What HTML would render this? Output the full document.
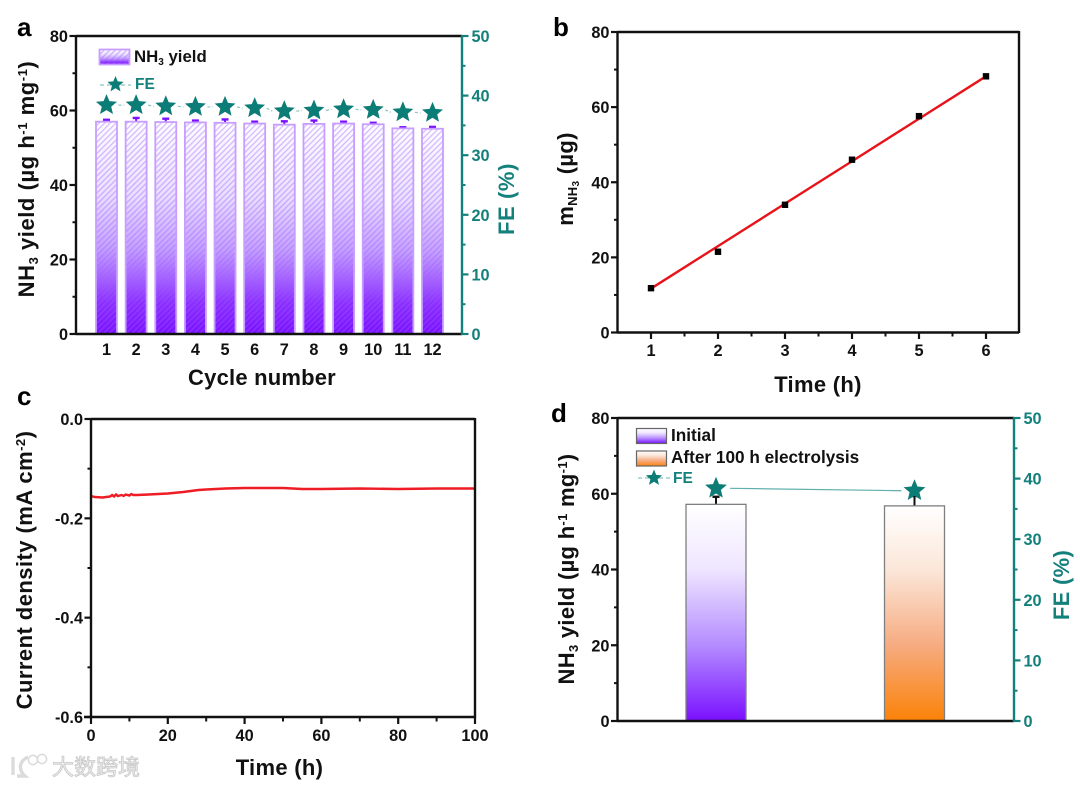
<!DOCTYPE html>
<html lang="en">
<head>
<meta charset="utf-8">
<title>NH3 yield stability charts</title>
<style>
html,body{margin:0;padding:0;background:#fff;width:1080px;height:786px;overflow:hidden}
svg{display:block;filter:blur(.35px)}
text{font-family:"Liberation Sans","Noto Sans CJK SC",sans-serif;font-weight:bold;fill:#111}
.teal{fill:#14807c}
.tt{font-size:22px;letter-spacing:.3px}
.lg{font-size:16.8px}
.lgd{font-size:17.2px}
.pl{font-size:26px;fill:#000}
</style>
</head>
<body>
<svg id="fig" xmlns="http://www.w3.org/2000/svg" width="1080" height="786" viewBox="0 0 1080 786">
<defs>
<linearGradient id="gradA" x1="0" y1="0" x2="0" y2="1"><stop offset="0" stop-color="#ffffff"/><stop offset=".35" stop-color="#eadfff"/><stop offset=".6" stop-color="#c4a0ff"/><stop offset=".85" stop-color="#8c30ff"/><stop offset="1" stop-color="#7a10ff"/></linearGradient>
<linearGradient id="gradP" x1="0" y1="0" x2="0" y2="1"><stop offset="0" stop-color="#ffffff"/><stop offset=".3" stop-color="#efe6ff"/><stop offset=".65" stop-color="#b48cff"/><stop offset="1" stop-color="#7a10ff"/></linearGradient>
<linearGradient id="gradO" x1="0" y1="0" x2="0" y2="1"><stop offset="0" stop-color="#ffffff"/><stop offset=".3" stop-color="#fbe6d8"/><stop offset=".65" stop-color="#f6ab80"/><stop offset="1" stop-color="#fb8208"/></linearGradient>
<pattern id="hatch" width="4" height="4" patternUnits="userSpaceOnUse" patternTransform="rotate(-45)"><line x1="0" y1="1" x2="4" y2="1" stroke="#9a5cff" stroke-opacity=".42" stroke-width="1.3"/></pattern>
</defs>

<rect x="0" y="0" width="1080" height="786" fill="#ffffff"/>

<g id="panelA"></g>
<g id="panelB"></g>
<g id="panelC"></g>
<g id="panelD"></g>

<text class="pl" x="17" y="36">a</text>
<text class="pl" x="553" y="36">b</text>
<text class="pl" x="17" y="405">c</text>
<text class="pl" x="551" y="422">d</text>

<text class="tt" style="letter-spacing:.55px" transform="translate(34,179) rotate(-90)" text-anchor="middle">NH<tspan font-size="13" dy="4">3</tspan><tspan dy="-4"> yield (µg h</tspan><tspan font-size="13" dy="-7">-1</tspan><tspan dy="7"> mg</tspan><tspan font-size="13" dy="-7">-1</tspan><tspan dy="7">)</tspan></text>
<text class="tt teal" style="letter-spacing:.6px" transform="translate(514,199) rotate(-90)" text-anchor="middle">FE (%)</text>
<text class="tt" style="letter-spacing:.2px" x="262" y="385" text-anchor="middle">Cycle number</text>
<text class="lg" x="134" y="62">NH<tspan font-size="10" dy="3">3</tspan><tspan dy="-3"> yield</tspan></text>
<text class="teal" font-size="15.5" x="135" y="89">FE</text>

<text class="tt" transform="translate(573,179) rotate(-90)" text-anchor="middle">m<tspan font-size="13" dy="4">NH</tspan><tspan font-size="10" dy="2">3</tspan><tspan dy="-6"> (µg)</tspan></text>
<text class="tt" x="818" y="392" text-anchor="middle">Time (h)</text>

<text class="tt" style="letter-spacing:.45px" transform="translate(32,570) rotate(-90)" text-anchor="middle">Current density (mA cm<tspan font-size="13" dy="-7">-2</tspan><tspan dy="7">)</tspan></text>
<text class="tt" x="279.5" y="775" text-anchor="middle">Time (h)</text>

<text class="tt" transform="translate(574,569) rotate(-90)" text-anchor="middle">NH<tspan font-size="13" dy="4">3</tspan><tspan dy="-4"> yield (µg h</tspan><tspan font-size="13" dy="-7">-1</tspan><tspan dy="7"> mg</tspan><tspan font-size="13" dy="-7">-1</tspan><tspan dy="7">)</tspan></text>
<text class="tt teal" transform="translate(1069,585) rotate(-90)" text-anchor="middle">FE (%)</text>
<text class="lgd" x="671" y="441">Initial</text>
<text class="lgd" x="671" y="463">After 100 h electrolysis</text>
<text class="teal" font-size="15.5" x="673" y="483">FE</text>

<g opacity=".95">
<path d="M13 757v18M28 757c-9 4-10 13-3 19h-8" fill="none" stroke="#dadada" stroke-width="3.4"/>
<circle cx="33" cy="760" r="4.6" fill="none" stroke="#d8d8d8" stroke-width="1.5"/>
<circle cx="42" cy="759" r="4.6" fill="none" stroke="#d8d8d8" stroke-width="1.5"/>
<text x="52" y="775" font-size="22" style="fill:#eeeeee;stroke:#c6c6c6;stroke-width:.8px;font-weight:normal">大数跨境</text>
</g>
</svg>
<script>
// Panel a data
var cycleLabels = ['1','2','3','4','5','6','7','8','9','10','11','12'];
var yieldValues = [57.0,57.0,56.9,56.8,56.7,56.5,56.2,56.4,56.5,56.3,55.2,55.1];
var yieldErrors = [0.5,1.0,0.9,0.5,0.9,0.5,0.9,0.9,0.5,0.4,0.3,0.5];
var feValues = [38.4,38.4,38.2,38.1,38.1,37.9,37.4,37.5,37.7,37.6,37.2,37.1];
var aLeftTicks = [0,20,40,60,80];
var aRightTicks = [0,10,20,30,40,50];
// Panel b data
var hours = [1,2,3,4,5,6];
var massValues = [11.8,21.5,34,46,57.6,68.2];
var massFit = [11.7,23,34.3,45.6,56.9,68.2];
var bLeftTicks = [0,20,40,60,80];
// Panel c data
var currentTimes = [0,1,3,5,5.5,6,6.5,7,8,8.5,9,10,10.5,11,12,15,20,24,27,28,30,35,40,50,55,60,70,80,90,100];
var currentValues = [-0.155,-0.157,-0.158,-0.156,-0.153,-0.156,-0.152,-0.155,-0.153,-0.155,-0.152,-0.154,-0.151,-0.153,-0.153,-0.152,-0.150,-0.147,-0.144,-0.143,-0.142,-0.140,-0.139,-0.139,-0.141,-0.141,-0.140,-0.141,-0.140,-0.140];
var cLeftTicks = [0,-0.2,-0.4,-0.6];
var cLeftLabels = ['0.0','-0.2','-0.4','-0.6'];
var cBottomTicks = [0,20,40,60,80,100];
// Panel d data
var stageValues = [57.2,56.8];
var stageErrors = [2.0,2.6];
var stageFE = [38.4,38.0];
var dRightTicks = [0,10,20,30,40,50];

var NS = 'http://www.w3.org/2000/svg';
var BLACK = '#111111', TEAL = '#14807c', STAR = '#0b7c76';

function mk(parent, tag, attrs) {
  var el = document.createElementNS(NS, tag);
  for (var k in attrs) el.setAttribute(k, attrs[k]);
  parent.appendChild(el);
  return el;
}
function linScale(d0, d1, r0, r1) {
  return function (v) { return r0 + (v - d0) / (d1 - d0) * (r1 - r0); };
}
function starPoints(cx, cy, r) {
  var p = [];
  for (var i = 0; i < 10; i++) {
    var a = -Math.PI / 2 + i * Math.PI / 5, q = i % 2 ? r * 0.45 : r;
    p.push((cx + q * Math.cos(a)).toFixed(1) + ',' + (cy + q * Math.sin(a)).toFixed(1));
  }
  return p.join(' ');
}
function axisLine(g, x1, y1, x2, y2, color, w) {
  var el = mk(g, 'line', {x1: x1, y1: y1, x2: x2, y2: y2, stroke: color, 'stroke-width': w || 2.4});
  
  
}
function vTicks(g, x, dir, scale, ticks, labels, minorStep, color) {
  var textCls = color === TEAL ? 'teal' : '';
  ticks.forEach(function (t, i) {
    var y = scale(t);
    var tk = mk(g, 'line', {x1: x, y1: y, x2: x + dir * 6.5, y2: y, stroke: color, 'stroke-width': 2.2});
    
    
    var lb = mk(g, 'text', {x: x + dir * (dir < 0 ? 8 : 9.5), y: y + 6, 'font-size': 16.3, 'text-anchor': dir < 0 ? 'end' : 'start', 'class': textCls});
    lb.textContent = labels[i];
    
    
    if (i < ticks.length - 1) {
      var my = scale((t + ticks[i + 1]) / 2);
      var mt = mk(g, 'line', {x1: x, y1: my, x2: x + dir * 3.5, y2: my, stroke: color, 'stroke-width': 2});
      
      
    }
  });
}
function xTicks(g, y, scale, ticks, labels) {
  ticks.forEach(function (t, i) {
    var x = scale(t);
    var tk = mk(g, 'line', {x1: x, y1: y, x2: x, y2: y + 6, stroke: BLACK, 'stroke-width': 2.2});
    
    
    var lb = mk(g, 'text', {x: x, y: y + 23, 'font-size': 16.3, 'text-anchor': 'middle'});
    lb.textContent = labels[i];
    
    
    if (i < ticks.length - 1) {
      var mx = scale((t + ticks[i + 1]) / 2);
      var mt = mk(g, 'line', {x1: mx, y1: y, x2: mx, y2: y + 3.5, stroke: BLACK, 'stroke-width': 2});
      
      
    }
  });
}
function errBar(g, x, y0, y1, color, capW) {
  var s = mk(g, 'line', {x1: x, y1: y0, x2: x, y2: y1, stroke: color, 'stroke-width': 2});
  
  
  var c = mk(g, 'line', {x1: x - capW, y1: y1, x2: x + capW, y2: y1, stroke: color, 'stroke-width': 2.4});
  
  
}
function stringify(a) { return a.map(String); }

/* ---------- Panel a ---------- */
(function () {
  var g = document.getElementById('panelA');
  var y = linScale(0, 80, 334, 36), yR = linScale(0, 50, 334, 36);
  var x = linScale(0, 11, 106.5, 432.5);
  var bw = 21;
  yieldValues.forEach(function (v, i) {
    var bx = x(i) - bw / 2, by = y(v), bh = y(0) - by;
    var e = y(v + yieldErrors[i]);
    errBar(g, x(i), by, e, '#7a10ff', 3.5);
    var r = mk(g, 'rect', {x: bx, y: by, width: bw, height: bh, fill: 'url(#gradA)'});
    
    
    var h = mk(g, 'rect', {x: bx, y: by, width: bw, height: bh, fill: 'url(#hatch)', stroke: '#c79eff', 'stroke-width': 1.8});
    
    
  });
  feValues.forEach(function (v, i) {
    if (i < feValues.length - 1) {
      var seg = mk(g, 'line', {x1: x(i) + 12, y1: yR(v), x2: x(i + 1) - 12, y2: yR(feValues[i + 1]), stroke: '#8cc4c1', 'stroke-width': 1.2, 'stroke-dasharray': '3 2'});
      
      
    }
    var s = mk(g, 'polygon', {points: starPoints(x(i), yR(v), 11), fill: STAR});
    
    
  });
  axisLine(g, 76, 36, 462, 36, BLACK);
  axisLine(g, 76, 35, 76, 335, BLACK);
  axisLine(g, 76, 334, 462, 334, BLACK);
  axisLine(g, 462, 35, 462, 335, TEAL);
  vTicks(g, 76, -1, y, aLeftTicks, stringify(aLeftTicks), 10, BLACK);
  vTicks(g, 462, 1, yR, aRightTicks, stringify(aRightTicks), 5, TEAL);
  cycleLabels.forEach(function (c, i) {
    var t = mk(g, 'text', {x: x(i), y: 355, 'font-size': 16.3, 'text-anchor': 'middle'});
    t.textContent = c;
    
    
  });
  var sw = mk(g, 'rect', {x: 99.5, y: 49.5, width: 30, height: 15, fill: 'url(#gradA)'});
  
  
  var sw2 = mk(g, 'rect', {x: 99.5, y: 49.5, width: 30, height: 15, fill: 'url(#hatch)', stroke: '#c79eff', 'stroke-width': 1.8});
  
  
  var ll = mk(g, 'line', {x1: 100, y1: 85, x2: 131, y2: 85, stroke: '#8cc4c1', 'stroke-width': 1.2, 'stroke-dasharray': '4 3'});
  
  
  var ls = mk(g, 'polygon', {points: starPoints(115.5, 84.5, 8.5), fill: STAR});
  
  
})();

/* ---------- Panel b ---------- */
(function () {
  var g = document.getElementById('panelB');
  var y = linScale(0, 80, 332.5, 32), x = linScale(1, 6, 651, 986);
  var pts = hours.map(function (h, i) { return x(h) + ',' + y(massFit[i]); }).join(' ');
  var fit = mk(g, 'polyline', {points: pts, fill: 'none', stroke: '#e8141c', 'stroke-width': 2.4});
  
  
  hours.forEach(function (h, i) {
    var p = mk(g, 'rect', {x: x(h) - 3.2, y: y(massValues[i]) - 3.2, width: 6.4, height: 6.4, fill: '#000'});
    
    
  });
  axisLine(g, 617.5, 32, 1019, 32, BLACK);
  axisLine(g, 1019, 31, 1019, 333, BLACK);
  axisLine(g, 617.5, 31, 617.5, 333.5, BLACK);
  axisLine(g, 617, 332.5, 1019, 332.5, BLACK);
  vTicks(g, 617.5, -1, y, bLeftTicks, stringify(bLeftTicks), 10, BLACK);
  xTicks(g, 333, x, hours, stringify(hours));
})();

/* ---------- Panel c ---------- */
(function () {
  var g = document.getElementById('panelC');
  var y = linScale(0, -0.6, 419, 717), x = linScale(0, 100, 91, 475);
  var pts = currentTimes.map(function (t, i) { return x(t).toFixed(1) + ',' + y(currentValues[i]).toFixed(1); }).join(' ');
  var ln = mk(g, 'polyline', {points: pts, fill: 'none', stroke: '#ee1c24', 'stroke-width': 2.4});
  
  
  axisLine(g, 91, 419, 475, 419, BLACK);
  axisLine(g, 475, 418, 475, 718, BLACK);
  axisLine(g, 91, 418, 91, 718, BLACK);
  axisLine(g, 84, 717, 475, 717, BLACK);
  vTicks(g, 91, -1, y, cLeftTicks, cLeftLabels, 0.1, BLACK);
  xTicks(g, 718, x, cBottomTicks, stringify(cBottomTicks));
})();

/* ---------- Panel d ---------- */
(function () {
  var g = document.getElementById('panelD');
  var y = linScale(0, 80, 721, 418), yR = linScale(0, 50, 721, 418);
  var centers = [716, 914.5];
  var fills = ['url(#gradP)', 'url(#gradO)'];
  var bw = 60;
  stageValues.forEach(function (v, i) {
    errBar(g, centers[i], y(v), y(v + stageErrors[i]), '#111', 3.5);
    var r = mk(g, 'rect', {x: centers[i] - bw / 2, y: y(v), width: bw, height: y(0) - y(v), fill: fills[i], stroke: '#7f7f7f', 'stroke-width': 1.3});
    
    
  });
  var c = mk(g, 'line', {x1: centers[0] + 14, y1: yR(stageFE[0]), x2: centers[1] - 13, y2: yR(stageFE[1]), stroke: '#5fb0ac', 'stroke-width': 1.2});
  
  
  stageFE.forEach(function (v, i) {
    var s = mk(g, 'polygon', {points: starPoints(centers[i], yR(v), 11.5), fill: STAR});
    
    
  });
  axisLine(g, 617.5, 418, 1014, 418, BLACK);
  axisLine(g, 617.5, 417, 617.5, 722, BLACK);
  axisLine(g, 617, 721, 1014, 721, BLACK);
  axisLine(g, 1014, 417, 1014, 722, TEAL);
  vTicks(g, 617.5, -1, y, bLeftTicks, stringify(bLeftTicks), 10, BLACK);
  vTicks(g, 1014, 1, yR, dRightTicks, stringify(dRightTicks), 5, TEAL);
  var s1 = mk(g, 'rect', {x: 636.5, y: 428.5, width: 30, height: 15, fill: 'url(#gradP)', stroke: '#666', 'stroke-width': 1.2});
  
  
  var s2 = mk(g, 'rect', {x: 636.5, y: 451, width: 30, height: 15, fill: 'url(#gradO)', stroke: '#666', 'stroke-width': 1.2});
  
  
  var ll = mk(g, 'line', {x1: 638, y1: 478, x2: 670, y2: 478, stroke: '#8cc4c1', 'stroke-width': 1.2, 'stroke-dasharray': '4 3'});
  
  
  var ls = mk(g, 'polygon', {points: starPoints(654, 478, 8.5), fill: STAR});
  
  
})();
</script>
</body>
</html>
